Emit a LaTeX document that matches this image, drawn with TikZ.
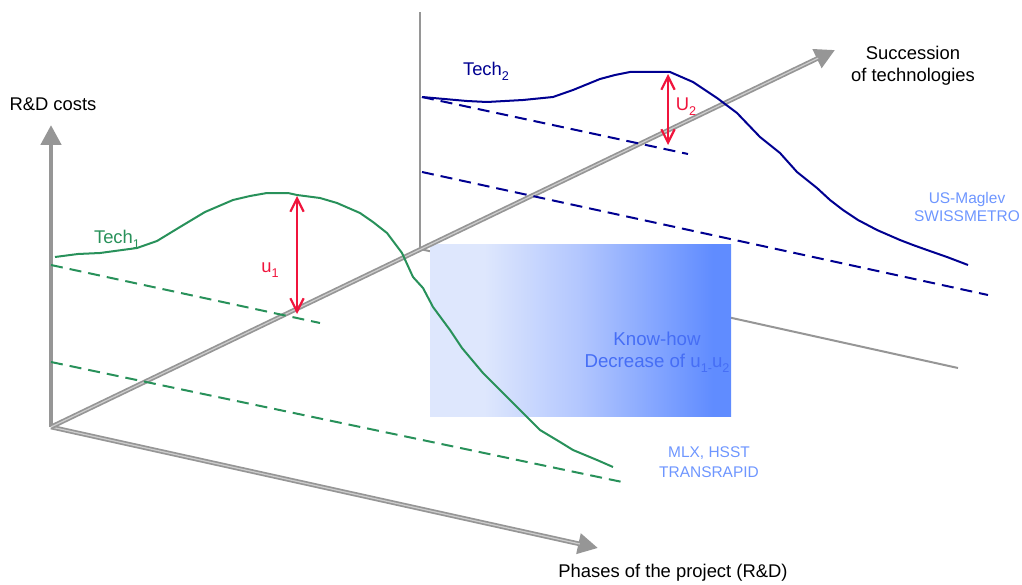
\documentclass[tikz,border=0pt]{standalone}
\usepackage{fontspec}
\setmainfont{Liberation Sans}
\usetikzlibrary{arrows.meta,calc}
\definecolor{axisgray}{RGB}{150,150,150}
\definecolor{axislight}{RGB}{205,205,205}
\definecolor{techgreen}{RGB}{40,145,90}
\definecolor{technavy}{RGB}{0,0,145}
\definecolor{ured}{RGB}{240,20,60}
\definecolor{lblue}{RGB}{110,150,255}
\definecolor{khtext}{RGB}{70,110,245}
\definecolor{kha}{RGB}{222,231,253}
\definecolor{khb}{RGB}{178,198,254}
\definecolor{khc}{RGB}{96,140,255}
\pgfdeclarehorizontalshading{knowhow}{100bp}{color(0bp)=(kha); color(25bp)=(kha); color(34bp)=(kha); color(50bp)=(khb); color(72bp)=(khc); color(100bp)=(khc)}
\newcommand\lowidx[1]{\raisebox{-0.5ex}{\fontsize{9.5}{10}\selectfont #1}}
\begin{document}
\begin{tikzpicture}[x=0.75pt,y=-0.75pt,
  font=\fontsize{13.8}{16.5}\selectfont,
  axisline/.style={draw=axisgray,line width=3.5pt,-{Triangle[length=15pt,width=15pt]}},
  axisinner/.style={draw=axislight,line width=0.9pt},
  thinaxis/.style={draw=axisgray,line width=1.5pt},
  greencurve/.style={draw=techgreen,line width=1.5pt,line join=round},
  navycurve/.style={draw=technavy,line width=1.5pt,line join=round},
  greendash/.style={draw=techgreen,line width=1.5pt,dash pattern=on 9pt off 5.25pt},
  navydash/.style={draw=technavy,line width=1.5pt,dash pattern=on 9pt off 5.25pt},
  uarrow/.style={draw=ured,line width=1.6pt,{Straight Barb[length=10pt,width=10pt]}-{Straight Barb[length=10pt,width=10pt]}},
  lbl/.style={inner sep=0pt},
  bluelbl/.style={inner sep=0pt,text=lblue,align=center,font=\fontsize{11.6}{15}\selectfont},
]
\useasboundingbox (0,0) rectangle (1022,585);

% coordinates
\coordinate (O) at (51,427);
\coordinate (Vtip) at (51,125);
\coordinate (Ptip) at (598,548);
\coordinate (Stip) at (835,50);
\coordinate (O2) at (420,249);
\coordinate (V2top) at (420,12);
\coordinate (P2end) at (958,368);

% second phases line (under the box) and second vertical
\draw[thinaxis] (O2) -- (P2end);
\draw[thinaxis] (O2) -- (V2top);

% know-how box
\shade[shading=knowhow] (430,244) rectangle (731,416);
\node[lbl,text=khtext,align=center,font=\fontsize{14}{16.5}\selectfont] (kh) at (657,352) {Know-how\\Decrease of u\lowidx{1-}u\lowidx{2}};

% main axes
\draw[axisline] (O) -- (Vtip);
\draw[axisline] (O) -- (Ptip);
\draw[axisinner] (O) -- ($(Ptip)!14pt!(O)$);
\draw[axisline] (O) -- (Stip);
\draw[axisinner] (O) -- ($(Stip)!14pt!(O)$);

% dashed base lines
\draw[greendash] (51,265) -- (320,323);
\draw[greendash] (51,362) -- (627,483);
\draw[navydash] (422,97) -- (688,154);
\draw[navydash] (422,172) -- (988,295);

% Tech1 curve
\draw[greencurve] plot coordinates {
 (55,257) (78,254) (100,253) (137,248) (157,241) (180,227) (205,212) (233,200)
 (250,196) (267,193) (288,193) (297,195) (320,198) (337,203) (360,213) (373,222) (387,233)
 (402,253) (413,277) (423,288) (433,307) (450,330) (462,348) (483,373) (500,390)
 (527,417) (540,430) (560,442) (573,450) (597,460) (613,467)};

% Tech2 curve
\draw[navycurve] plot coordinates {
 (422,97) (467,101) (487,102) (523,100) (543,98) (553,97) (573,90) (600,79)
 (615,75) (630,72) (670,72) (693,82) (717,98) (737,113) (760,137) (780,153) (797,172)
 (817,188) (830,200) (843,210) (858,220) (877,230) (900,240) (913,245) (927,250)
 (947,257) (968,265)};

% u arrows
\coordinate (u1t) at (297,196);
\coordinate (u1b) at (297,314);
\draw[uarrow] (u1t) -- (u1b);
\coordinate (u2t) at (668,74);
\coordinate (u2b) at (668,145);
\draw[uarrow] (u2t) -- (u2b);
\node[lbl,text=ured] (u1) at (270,270) {u\lowidx{1}};
\node[lbl,text=ured] (u2) at (686,107) {U\lowidx{2}};

% labels
\node[lbl,text=techgreen] (t1) at (117,239) {Tech\lowidx{1}};
\node[lbl,text=technavy] (t2) at (486,71) {Tech\lowidx{2}};
\node[lbl] (rd) at (53,104) {R\&D costs};
\node[lbl,align=center,font=\fontsize{13.8}{16.5}\selectfont] (succ) at (913,66) {Succession\\of technologies};
\node[lbl] (ph) at (673,573) {Phases of the project (R\&D)};
\node[bluelbl,font=\fontsize{11.6}{13}\selectfont] (us) at (967,207) {US-Maglev\\SWISSMETRO};
\node[bluelbl] (mlx) at (709,462) {MLX, HSST\\TRANSRAPID};
\end{tikzpicture}
\end{document}
